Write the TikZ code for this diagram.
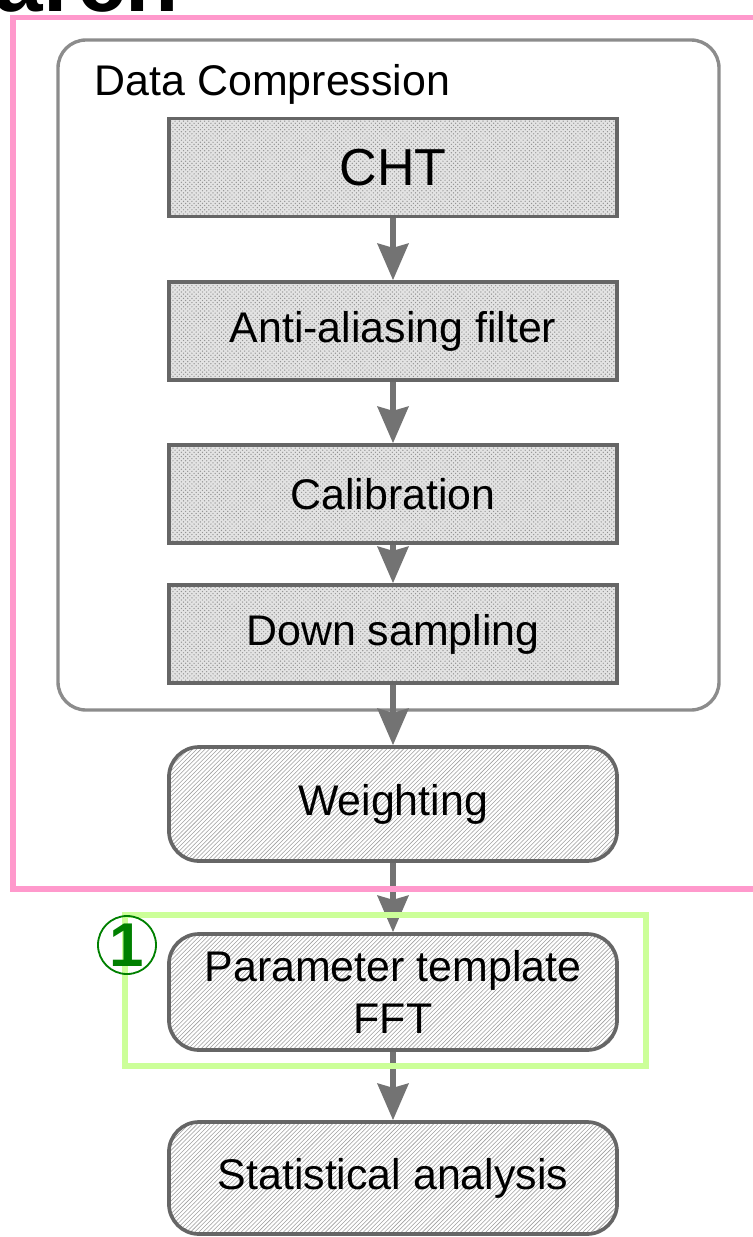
\documentclass[tikz,border=0pt]{standalone}
\usepackage{fontspec}
\setmainfont{Liberation Sans}
\usetikzlibrary{positioning,arrows.meta,patterns}
\definecolor{markpink}{HTML}{FF99CC}
\definecolor{markgreen}{HTML}{CCFF99}
\definecolor{numgreen}{HTML}{008000}

\begin{document}
\begin{tikzpicture}[x=0.025cm,y=-0.025cm,
	dotbox/.style={draw=black!60, line width=2.6pt, preaction={fill=gray!22}, pattern=crosshatch dots, pattern color=gray!85, minimum width=11.2cm, minimum height=2.45cm, font=\fontsize{30.5}{37}\selectfont},
	hatchbox/.style={draw=black!60, line width=2.6pt, rounded corners=0.75cm, preaction={fill=white}, pattern=north east lines, pattern color=gray!75, minimum width=11.2cm, minimum height=2.85cm, align=center, font=\fontsize{30.5}{37}\selectfont},
	flow/.style={draw=black!55, line width=3.6pt, -{Stealth[length=26pt,width=22pt,inset=3pt]}},
	markline/.style={line width=3.6pt}]
				\clip (0,0) rectangle (753,1237);
				\node [anchor=base east, font=\bfseries\fontsize{62}{62}\selectfont] (ttl) at (184,11) {arch};
				\draw [draw=black!45, line width=2.4pt, rounded corners=0.7cm] (58,40) rectangle (719,710);
				\node [anchor=base west, font=\fontsize{30.5}{37}\selectfont] (dc) at (90,95) {Data Compression};
				\node [dotbox, font=\fontsize{37}{44}\selectfont] (cht) at (393,167.5) {CHT};
				\node [dotbox] (aaf) at (393,331) {Anti-aliasing filter};
				\node [dotbox] (cal) at (393,494) {Calibration};
				\node [dotbox] (dsp) at (393,634) {Down sampling};
				\node [hatchbox] (wgt) at (393,804) {Weighting};
				\node [hatchbox, minimum height=2.9cm] (ptf) at (393,992) {Parameter template\\FFT};
				\node [hatchbox, minimum height=2.8cm] (sta) at (393,1178) {Statistical analysis};
				\draw [flow] (cht) -- (aaf);              \draw [flow] (aaf) -- (cal);
				\draw [flow] (cal) -- (dsp);              \draw [flow] (dsp) -- (wgt);
				\draw [flow] (wgt) -- (ptf);              \draw [flow] (ptf) -- (sta);
				\draw [markline, markpink] (13,17.5) rectangle (790,889);
				\draw [markline, markgreen] (125,915) rectangle (646,1066);
				\node [circle, draw=numgreen, line width=1.3pt, minimum size=1.45cm, inner sep=0pt, text=numgreen, font=\bfseries\fontsize{44}{44}\selectfont] (one) at (127,945) {1};
			\end{tikzpicture}
\end{document}
